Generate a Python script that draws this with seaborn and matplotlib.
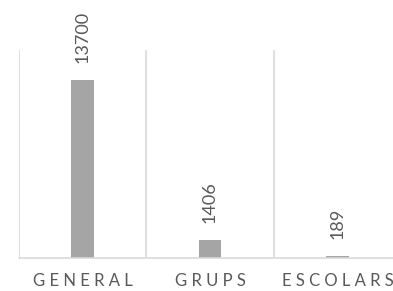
import matplotlib
matplotlib.use("Agg")
import matplotlib.pyplot as plt
import seaborn as sns
import pandas as pd

categories = ["GENERAL", "GRUPS", "ESCOLARS"]
values = [13700, 1406, 189]

sns.set_style("white")
plt.rcParams['font.family'] = ['Lato', 'DejaVu Sans']

TEXT = "#595959"
BAR = "#A5A5A5"
GRID = "#D9D9D9"

df = pd.DataFrame({"cat": categories, "val": values})

fig = plt.figure(figsize=(3.93, 2.91), dpi=100)
ax = fig.add_axes([18.75 / 393, 33 / 291, 382.5 / 393, 208 / 291])

sns.barplot(data=df, x="cat", y="val", color=BAR, width=0.18, ax=ax,
            saturation=1, edgecolor="none")

ax.set_xlim(-0.5, 2.5)
ax.set_ylim(0, 16000)

for s in ["top", "left", "right"]:
    ax.spines[s].set_visible(False)
ax.spines["bottom"].set_color(GRID)
ax.spines["bottom"].set_linewidth(1.2)

ax.set_xticks([-0.5, 0.5, 1.5, 2.5], minor=True)
ax.grid(which="minor", axis="x", color=GRID, linewidth=1.2)
ax.grid(which="major", visible=False)
ax.tick_params(which="both", length=0)
ax.set_yticks([])
ax.set_xlabel("")
ax.set_ylabel("")
ax.set_xticks(range(len(categories)))
ax.set_xticklabels([" ".join(c) for c in categories], color=TEXT, fontsize=12)
ax.tick_params(axis="x", pad=11)

for i, v in enumerate(values):
    ax.annotate(str(v), (i, v), xytext=(0, 12), textcoords="offset points",
                rotation=90, ha="center", va="bottom", color=TEXT, fontsize=13)

fig.savefig("out.png", dpi=100)
